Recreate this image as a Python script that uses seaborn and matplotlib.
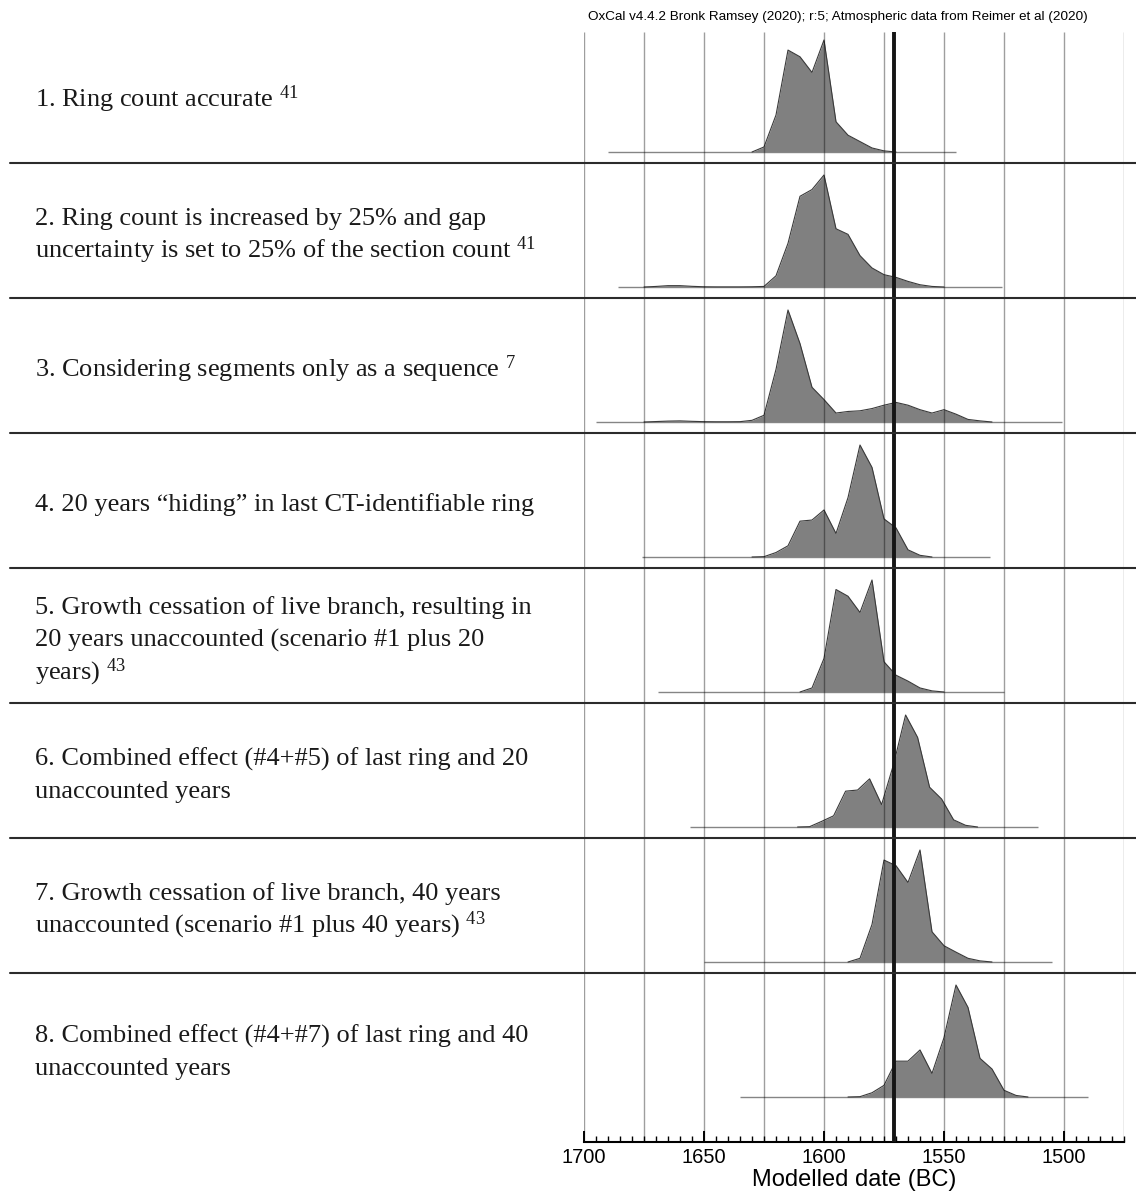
import numpy as np
import pandas as pd
import matplotlib
matplotlib.use("Agg")
import matplotlib.pyplot as plt
import seaborn as sns
from matplotlib.ticker import MultipleLocator

# ---------------- data ----------------
labels = [
    "1. Ring count accurate $^{41}$",
    "2. Ring count is increased by 25% and gap\nuncertainty is set to 25% of the section count $^{41}$",
    "3. Considering segments only as a sequence $^{7}$",
    "4. 20 years \u201chiding\u201d in last CT-identifiable ring",
    "5. Growth cessation of live branch, resulting in\n20 years unaccounted (scenario #1 plus 20\nyears) $^{43}$",
    "6. Combined effect (#4+#5) of last ring and 20\nunaccounted years",
    "7. Growth cessation of live branch, 40 years\nunaccounted (scenario #1 plus 40 years) $^{43}$",
    "8. Combined effect (#4+#7) of last ring and 40\nunaccounted years",
]

years_1 = [1630, 1625, 1620, 1615, 1610, 1605, 1600, 1595, 1590, 1585, 1580, 1575, 1570]
dens_1 = [0, 0.045, 0.33, 0.91, 0.85, 0.71, 1.0, 0.27, 0.15, 0.093, 0.036, 0.01, 0]

years_2 = [1675, 1670, 1665, 1660, 1655, 1650, 1645, 1640, 1635, 1630, 1625, 1620, 1615, 1610,
           1605, 1600, 1595, 1590, 1585, 1580, 1575, 1570, 1565, 1560, 1555, 1550]
dens_2 = [0, 0.005, 0.012, 0.012, 0.006, 0.002, 0.001, 0.001, 0.001, 0.002, 0.005, 0.1, 0.39, 0.81,
          0.87, 1.0, 0.52, 0.47, 0.28, 0.17, 0.11, 0.086, 0.05, 0.02, 0.005, 0]

years_3 = [1675, 1670, 1665, 1660, 1655, 1650, 1645, 1640, 1635, 1630, 1625, 1620, 1615, 1610,
           1605, 1600, 1595, 1590, 1585, 1580, 1575, 1570, 1565, 1560, 1555, 1550, 1545, 1540,
           1535, 1530]
dens_3 = [0, 0.004, 0.008, 0.01, 0.006, 0.003, 0.002, 0.002, 0.003, 0.015, 0.06, 0.47, 1.0, 0.70,
          0.31, 0.2, 0.08, 0.094, 0.10, 0.12, 0.15, 0.175, 0.15, 0.11, 0.08, 0.11, 0.07, 0.023,
          0.01, 0]

years_4 = [1630, 1625, 1620, 1615, 1610, 1605, 1600, 1595, 1590, 1585, 1580, 1575, 1570, 1565,
           1560, 1555]
dens_4 = [0, 0.003, 0.04, 0.10, 0.32, 0.33, 0.42, 0.21, 0.53, 1.0, 0.80, 0.34, 0.26, 0.064,
          0.015, 0]

years_5 = [1610, 1605, 1600, 1595, 1590, 1585, 1580, 1575, 1570, 1565, 1560, 1555, 1550]
dens_5 = [0, 0.036, 0.30, 0.915, 0.855, 0.71, 1.0, 0.27, 0.15, 0.097, 0.036, 0.01, 0]

years_6 = [1611, 1606, 1601, 1596, 1591, 1586, 1581, 1576, 1571, 1566, 1561, 1556, 1551, 1546,
           1541, 1536]
dens_6 = [0, 0.003, 0.05, 0.10, 0.32, 0.33, 0.43, 0.20, 0.56, 1.0, 0.80, 0.355, 0.25, 0.064,
          0.015, 0]

years_7 = [1590, 1585, 1580, 1575, 1570, 1565, 1560, 1555, 1550, 1545, 1540, 1535, 1530]
dens_7 = [0, 0.033, 0.335, 0.91, 0.86, 0.71, 1.0, 0.27, 0.145, 0.088, 0.033, 0.01, 0]

years_8 = [1590, 1585, 1580, 1575, 1570, 1565, 1560, 1555, 1550, 1545, 1540, 1535, 1530, 1525,
           1520, 1515]
dens_8 = [0, 0.003, 0.038, 0.104, 0.32, 0.32, 0.42, 0.21, 0.53, 1.0, 0.80, 0.345, 0.25, 0.06,
          0.014, 0]

range_start = [1690, 1686, 1695, 1676, 1669, 1656, 1650, 1635]
range_end = [1545, 1526, 1501, 1531, 1525, 1511, 1505, 1490]

marker_year = 1571
grid_years = list(range(1475, 1701, 25))
header = "OxCal v4.4.2 Bronk Ramsey (2020); r:5; Atmospheric data from Reimer et al (2020)"
xlabel = "Modelled date (BC)"

all_years = [years_1, years_2, years_3, years_4, years_5, years_6, years_7, years_8]
all_dens = [dens_1, dens_2, dens_3, dens_4, dens_5, dens_6, dens_7, dens_8]

# ---------------- style ----------------
sns.set_theme(style="white")
plt.rcParams["font.family"] = ["Liberation Sans", "DejaVu Sans"]
plt.rcParams["mathtext.default"] = "regular"

W, H = 1136, 1196
fig = plt.figure(figsize=(W / 100, H / 100), dpi=100)
ax_left, ax_right, ax_top, ax_bot = 584, 1124, 32, 1142
ax = fig.add_axes([ax_left / W, 1 - ax_bot / H, (ax_right - ax_left) / W, (ax_bot - ax_top) / H])

row_px = 135.0
row_top0 = 28.0
y_top = (ax_top - row_top0) / row_px
y_bot = (ax_bot - row_top0) / row_px
ax.set_xlim(1700, 1475)
ax.set_ylim(y_bot, y_top)

base_off = 1 - 11 / row_px
peak_scale = 112 / row_px

rows = []
for i, (yrs, d) in enumerate(zip(all_years, all_dens)):
    base = i + base_off
    yv = base - np.asarray(d) * peak_scale
    ax.fill_between(yrs, base, yv, color="#808080", lw=0, zorder=2)
    rows.append(pd.DataFrame({"year": yrs, "y": yv, "row": i}))
    ax.hlines(base, range_start[i], range_end[i], color="#858585", lw=1.0, zorder=2.5)

df = pd.concat(rows, ignore_index=True)
sns.lineplot(data=df, x="year", y="y", units="row", estimator=None, sort=False,
             color="#3a3a3a", lw=0.8, ax=ax, legend=False, zorder=2.6)

ax.vlines(grid_years, y_bot, y_top, color="black", alpha=0.38, lw=1.0, zorder=3)
ax.axvline(marker_year, color="#151515", lw=2.8, zorder=4)

# separators across full width
xa0 = (10 - ax_left) / (ax_right - ax_left)
xa1 = (W - ax_left) / (ax_right - ax_left)
for k in range(1, 8):
    ax.plot([xa0, xa1], [k, k], transform=ax.get_yaxis_transform(), color="#2b2b2b",
            lw=1.5, clip_on=False, zorder=5)

# row labels, one text per line with fixed line pitch
tx = (35 - ax_left) / (ax_right - ax_left)
line_pitch = 32.5 / row_px
base_shift = 9 / row_px
for i, lab in enumerate(labels):
    yc = i + 0.5 + (2 if i < 7 else 9) / row_px
    parts = lab.split("\n")
    n = len(parts)
    for j, part in enumerate(parts):
        yl = yc + (j - (n - 1) / 2) * line_pitch + base_shift
        ax.text(tx, yl, part, transform=ax.get_yaxis_transform(), ha="left", va="baseline",
                fontsize=19, family=["Liberation Serif", "DejaVu Serif"], color="#1a1a1a")

# axes styling
for s in ["top", "left", "right"]:
    ax.spines[s].set_visible(False)
ax.spines["bottom"].set_color("black")
ax.spines["bottom"].set_linewidth(1.5)
ax.set_yticks([])
ax.set_ylabel("")
ax.xaxis.set_major_locator(MultipleLocator(50))
ax.xaxis.set_minor_locator(MultipleLocator(5))
ax.tick_params(axis="x", which="major", direction="in", length=8, width=1.4,
               labelsize=14.5, pad=4, color="black", labelcolor="black", bottom=True)
ax.tick_params(axis="x", which="minor", direction="in", length=4, width=1.0,
               color="black", bottom=True)
ax.set_xlabel(xlabel, fontsize=17, labelpad=2, color="black")

fig.text(838 / W, 1 - 17 / H, header, ha="center", va="center", fontsize=9.7, color="black")

fig.savefig("out.png", dpi=100, facecolor="white")
